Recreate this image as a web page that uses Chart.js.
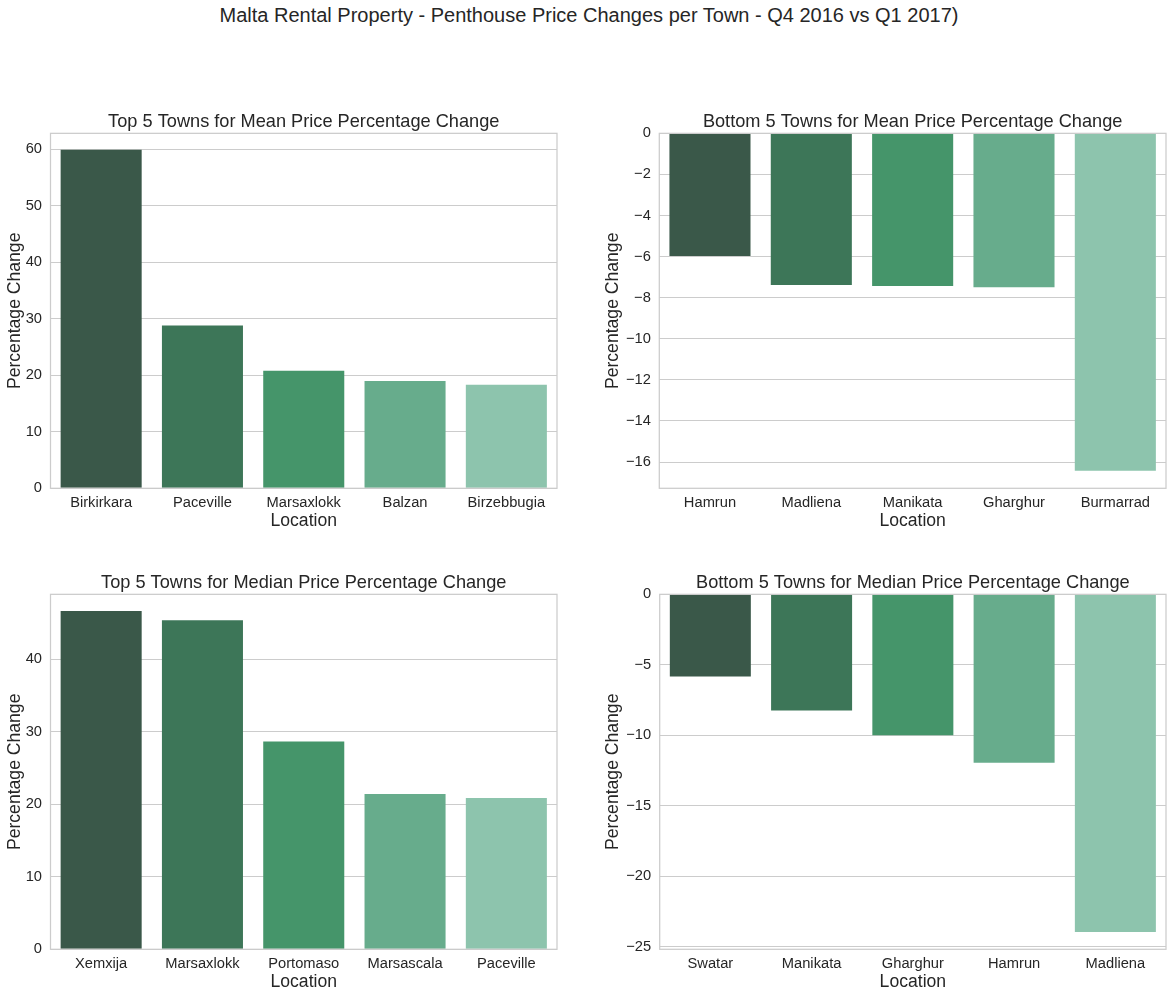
<!DOCTYPE html>
<html>
<head>
<meta charset="utf-8">
<script src="https://cdn.jsdelivr.net/npm/chart.js@4.4.1/dist/chart.umd.min.js"></script>
<style>
  body { margin: 0; background: #fff; }
  #page { position: relative; width: 1173px; height: 996px; font-family: "Liberation Sans", Arial, sans-serif; }
  #suptitle { position: absolute; left: 0; width: 1178px; top: 4px; text-align: center; font-size: 20px; color: #262626; }
  canvas { position: absolute; }
</style>
</head>
<body>
<div id="page">
  <div id="suptitle">Malta Rental Property - Penthouse Price Changes per Town - Q4 2016 vs Q1 2017)</div>
  <canvas id="topMean" width="575" height="432" style="left:0;top:100px"></canvas>
  <canvas id="bottomMean" width="573" height="432" style="left:600px;top:100px"></canvas>
  <canvas id="topMedian" width="575" height="432" style="left:0;top:561px"></canvas>
  <canvas id="bottomMedian" width="573" height="432" style="left:600px;top:561px"></canvas>
</div>
<script>
// Data
const topMeanTowns = ['Birkirkara', 'Paceville', 'Marsaxlokk', 'Balzan', 'Birzebbugia'];
const topMeanChange = [59.9, 28.8, 20.8, 19.0, 18.3];

const bottomMeanTowns = ['Hamrun', 'Madliena', 'Manikata', 'Gharghur', 'Burmarrad'];
const bottomMeanChange = [-5.97, -7.38, -7.43, -7.49, -16.42];

const topMedianTowns = ['Xemxija', 'Marsaxlokk', 'Portomaso', 'Marsascala', 'Paceville'];
const topMedianChange = [46.66, 45.4, 28.66, 21.42, 20.87];

const bottomMedianTowns = ['Swatar', 'Manikata', 'Gharghur', 'Hamrun', 'Madliena'];
const bottomMedianChange = [-5.83, -8.25, -10.0, -11.95, -23.96];

const barColors = ['#3a5849', '#3d7658', '#45956a', '#67ac8c', '#8dc4ad'];
const textColor = '#262626';
const gridColor = '#cccccc';
const fontFamily = '"Liberation Sans", Arial, sans-serif';

// matplotlib-style spines on all four sides
const frame = {
  id: 'frame',
  afterDraw(chart) {
    const { ctx, chartArea: a } = chart;
    ctx.save();
    ctx.strokeStyle = gridColor;
    ctx.lineWidth = 1.25;
    ctx.strokeRect(a.left, a.top, a.right - a.left, a.bottom - a.top);
    ctx.restore();
  }
};

function fmt(v) {
  return v < 0 ? '\u2212' + Math.abs(v) : String(v);
}

function makePanel(id, title, labels, values, yMin, yMax, step, opts) {
  new Chart(document.getElementById(id), {
    type: 'bar',
    data: {
      labels: labels,
      datasets: [{
        data: values,
        backgroundColor: barColors,
        borderWidth: 0,
        categoryPercentage: 0.8,
        barPercentage: 1.0
      }]
    },
    options: {
      responsive: false,
      devicePixelRatio: 1,
      animation: false,
      layout: { padding: { left: 0, right: opts.padRight, top: 0, bottom: 0 } },
      plugins: {
        legend: { display: false },
        tooltip: { enabled: false },
        title: {
          display: true,
          text: title,
          fullSize: false,
          color: textColor,
          font: { family: fontFamily, size: 18.2, weight: 'normal', lineHeight: 1.2 },
          padding: { top: 11.5, bottom: 0 }
        }
      },
      scales: {
        x: {
          grid: { display: false, drawTicks: false },
          border: { display: false },
          ticks: { color: textColor, padding: 6, font: { family: fontFamily, size: 14.7 } },
          title: {
            display: true,
            text: 'Location',
            color: textColor,
            padding: 0,
            font: { family: fontFamily, size: 17.6, lineHeight: 1.2 }
          },
          afterFit(scale) { scale.height = 43.7; }
        },
        y: {
          min: yMin,
          max: yMax,
          grid: { color: gridColor, lineWidth: 1, drawTicks: false },
          border: { display: false },
          ticks: {
            stepSize: step,
            includeBounds: false,
            color: textColor,
            padding: 8.5,
            font: { family: fontFamily, size: 14.7 },
            callback: v => fmt(v)
          },
          title: {
            display: true,
            text: 'Percentage Change',
            color: textColor,
            padding: { top: opts.titlePad, bottom: 0 },
            font: { family: fontFamily, size: 17.6, lineHeight: 1.2 }
          },
          afterFit(scale) { scale.width = opts.axisWidth; }
        }
      }
    },
    plugins: [frame]
  });
}

makePanel('topMean', 'Top 5 Towns for Mean Price Percentage Change',
  topMeanTowns, topMeanChange, 0, 62.8, 10, { axisWidth: 50.5, padRight: 18, titlePad: 4.7 });
makePanel('bottomMean', 'Bottom 5 Towns for Mean Price Percentage Change',
  bottomMeanTowns, bottomMeanChange, -17.28, 0, 2, { axisWidth: 59.3, padRight: 7, titlePad: 2.4 });
makePanel('topMedian', 'Top 5 Towns for Median Price Percentage Change',
  topMedianTowns, topMedianChange, 0, 48.97, 10, { axisWidth: 50.5, padRight: 18, titlePad: 4.7 });
makePanel('bottomMedian', 'Bottom 5 Towns for Median Price Percentage Change',
  bottomMedianTowns, bottomMedianChange, -25.19, 0, 5, { axisWidth: 59.7, padRight: 7, titlePad: 2.4 });
</script>
</body>
</html>
